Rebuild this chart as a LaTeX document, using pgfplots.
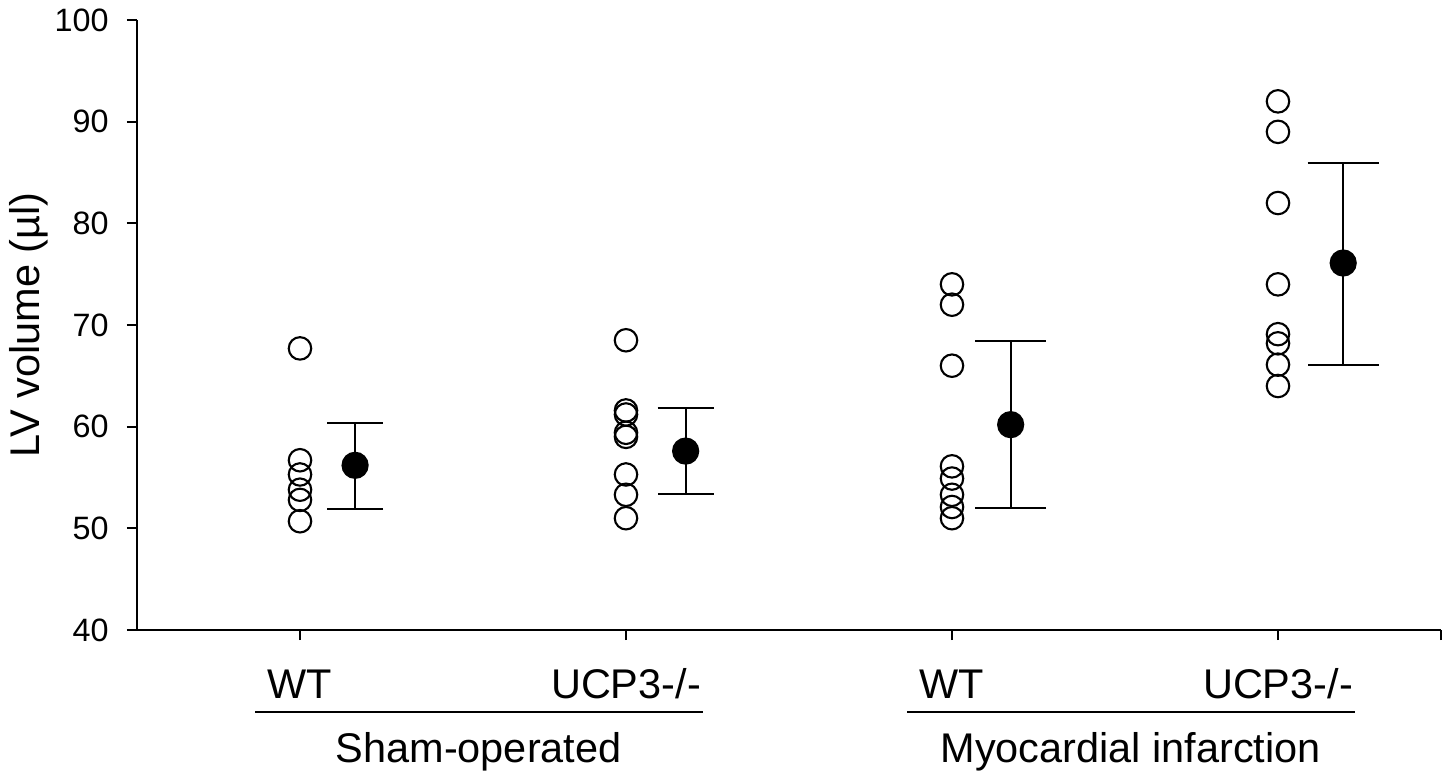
\documentclass[border=0pt]{standalone}
\usepackage{fontspec}
\setmainfont{Liberation Sans}
\usepackage{pgfplots}
\pgfplotsset{compat=1.18}

\newcommand{\tickfont}{\fontsize{9.2}{11}\selectfont}
\newcommand{\labfont}{\fontsize{11.8}{14}\selectfont}

\begin{document}
\begin{tikzpicture}
\begin{axis}[
    scale only axis,
    width=130.4mm, height=61mm,
    xmin=0.5, xmax=4.5,
    ymin=40, ymax=100,
    axis lines=left,
    axis line style={-, line width=0.6pt},
    tick align=outside,
    major tick length=1mm,
    tick style={line width=0.55pt, black},
    xtick={1,2,3,4,4.5},
    xticklabels={},
    ytick={40,50,...,100},
    /pgf/number format/assume math mode=true,
    yticklabel style={font=\tickfont, xshift=-0.6mm},
    ylabel={LV volume (µl)},
    ylabel style={font=\labfont, at={(axis description cs:-0.083,0.5)}, anchor=center},
    clip=false,
]
% individual animals (open circles)
\addplot[only marks, mark=o, mark size=3.2pt, line width=0.6pt] coordinates {
    (1,67.7)(1,56.7)(1,55.3)(1,53.8)(1,52.8)(1,50.7)
};
\addplot[only marks, mark=o, mark size=3.2pt, line width=0.6pt] coordinates {
    (2,68.5)(2,61.6)(2,61.2)(2,59.4)(2,59.0)(2,55.3)(2,53.3)(2,51.0)
};
\addplot[only marks, mark=o, mark size=3.2pt, line width=0.6pt] coordinates {
    (3,74.0)(3,72.0)(3,66.0)(3,56.1)(3,54.9)(3,53.3)(3,52.1)(3,51.0)
};
\addplot[only marks, mark=o, mark size=3.2pt, line width=0.6pt] coordinates {
    (4,92.0)(4,89.0)(4,82.0)(4,74.0)(4,69.1)(4,68.2)(4,66.1)(4,64.0)
};
% means with error bars
\addplot[only marks, mark=*, mark size=3.6pt, black, line width=0.55pt,
    error bars/.cd, y dir=both, y explicit,
    error mark options={mark size=2.8mm, line width=0.55pt, rotate=90},
    error bar style={line width=0.55pt}] coordinates {
    (1.169,56.2) += (0,4.2) -= (0,4.3)
    (2.183,57.6) += (0,4.2) -= (0,4.2)
};
\addplot[only marks, mark=*, mark size=3.6pt, black, line width=0.55pt,
    error bars/.cd, y dir=both, y explicit,
    error mark options={mark size=3.55mm, line width=0.55pt, rotate=90},
    error bar style={line width=0.55pt}] coordinates {
    (3.180,60.2) += (0,8.2) -= (0,8.2)
    (4.200,76.1) += (0,9.8) -= (0,10.0)
};
% category labels
\node[anchor=base, font=\labfont] at (axis cs:1,40) [yshift=-6.8mm] {WT};
\node[anchor=base, font=\labfont] at (axis cs:2,40) [yshift=-6.8mm] {UCP3-/-};
\node[anchor=base, font=\labfont] at (axis cs:3,40) [yshift=-6.8mm] {WT};
\node[anchor=base, font=\labfont] at (axis cs:4,40) [yshift=-6.8mm] {UCP3-/-};
% group underlines and labels
\draw[line width=0.6pt] ([yshift=-8.2mm]axis cs:0.862,40) -- ([yshift=-8.2mm]axis cs:2.236,40);
\draw[line width=0.6pt] ([yshift=-8.2mm]axis cs:2.862,40) -- ([yshift=-8.2mm]axis cs:4.236,40);
\node[anchor=base, font=\labfont] at (axis cs:1.548,40) [yshift=-13.2mm] {Sham-operated};
\node[anchor=base, font=\labfont] at (axis cs:3.548,40) [yshift=-13.2mm] {Myocardial infarction};
\coordinate (bl) at (rel axis cs:0,0);
\end{axis}
\pgfresetboundingbox
\path[use as bounding box] (bl) ++(-13.7mm,-14.8mm) rectangle ++(145.4mm,77.8mm);
\end{tikzpicture}
\end{document}
